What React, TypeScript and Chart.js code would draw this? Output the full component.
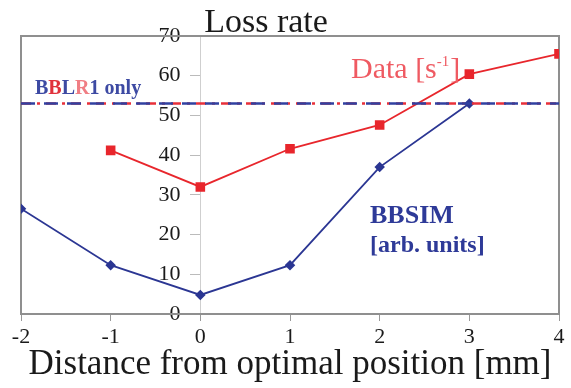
import React, { useEffect, useRef } from "react";
import { Chart, registerables } from "chart.js";

Chart.register(...registerables);

const positions = [-2, -1, 0, 1, 2, 3, 4];
const dataX = [-1, 0, 1, 2, 3, 4];
const dataValues = [41.2, 32.0, 41.6, 47.6, 60.4, 65.5];
const simX = [-2, -1, 0, 1, 2, 3];
const simValues = [26.5, 12.3, 4.8, 12.3, 37.0, 53.0];
const bblrX = [-2, 4];
const bblrLevel = 53;
const yTicks = [0, 10, 20, 30, 40, 50, 60, 70];

const RED = "#e8262c";
const BLUE = "#2b3693";
const SERIF = "'Liberation Serif', 'DejaVu Serif', serif";

const annotations = {
  id: "annotations",
  beforeDatasetsDraw(chart: any) {
    const { ctx, chartArea } = chart;
    ctx.save();
    ctx.strokeStyle = "#8f8f8f";
    ctx.lineWidth = 2;
    ctx.strokeRect(chartArea.left, chartArea.top, chartArea.right - chartArea.left, chartArea.bottom - chartArea.top);
    ctx.restore();
  },
  afterDraw(chart: any) {
    const { ctx } = chart;
    ctx.save();
    ctx.textBaseline = "alphabetic";
    // Title
    ctx.fillStyle = "#1a1a1a";
    ctx.font = `34px ${SERIF}`;
    ctx.textAlign = "center";
    ctx.fillText("Loss rate", 266, 32);
    ctx.textAlign = "left";
    // BBLR1 only (multi-coloured)
    ctx.font = `bold 20px ${SERIF}`;
    const parts: [string, string][] = [
      ["B", "#3d4aa3"], ["B", "#e0323c"], ["L", "#3d4aa3"], ["R", "#f07e84"], ["1", "#3d4aa3"], [" only", "#3d4aa3"],
    ];
    let px = 35;
    for (const [t, c] of parts) {
      ctx.fillStyle = c;
      ctx.fillText(t, px, 94);
      px += ctx.measureText(t).width;
    }
    // Data [s^-1]
    ctx.fillStyle = "#ef5a62";
    ctx.font = `30px ${SERIF}`;
    let dx = 351;
    ctx.fillText("Data [s", dx, 78);
    dx += ctx.measureText("Data [s").width;
    ctx.font = `15px ${SERIF}`;
    ctx.fillText("-1", dx, 66);
    dx += ctx.measureText("-1").width + 1;
    ctx.font = `30px ${SERIF}`;
    ctx.fillText("]", dx, 78);
    // BBSIM
    ctx.fillStyle = "#2e3a98";
    ctx.font = `bold 26px ${SERIF}`;
    ctx.fillText("BBSIM", 370, 223);
    ctx.font = `bold 24px ${SERIF}`;
    ctx.fillText("[arb. units]", 370, 252);
    ctx.restore();
  },
};

export default function App() {
  const ref = useRef<HTMLCanvasElement>(null);
  useEffect(() => {
    if (!ref.current) return;
    const chart = new Chart(ref.current, {
      type: "line",
      data: {
        datasets: [
          {
            label: "BBLR1 blue",
            data: bblrX.map((x) => ({ x, y: bblrLevel })),
            borderColor: "#3040a0",
            borderWidth: 2.5,
            borderDash: [14, 9],
            pointRadius: 0,
          },
          {
            label: "BBLR1 red",
            data: bblrX.map((x) => ({ x, y: bblrLevel })),
            borderColor: "#e8303a",
            borderWidth: 2.5,
            borderDash: [10, 6, 3, 6],
            pointRadius: 0,
          },
          {
            label: "BBSIM",
            data: simX.map((x, i) => ({ x, y: simValues[i] })),
            borderColor: BLUE,
            backgroundColor: BLUE,
            borderWidth: 1.8,
            pointStyle: "rectRot",
            pointRadius: 4,
          },
          {
            label: "Data",
            data: dataX.map((x, i) => ({ x, y: dataValues[i] })),
            borderColor: RED,
            backgroundColor: RED,
            borderWidth: 1.8,
            pointStyle: "rect",
            pointRadius: 5.5,
          },
        ],
      },
      options: {
        animation: false,
        responsive: false,
        maintainAspectRatio: false,
        layout: { padding: { left: 21, right: 12, top: 36, bottom: 0 } },
        plugins: { legend: { display: false }, title: { display: false }, tooltip: { enabled: false } },
        scales: {
          x: {
            type: "linear",
            min: positions[0],
            max: positions[positions.length - 1],
            afterBuildTicks: (s: any) => {
              s.ticks = positions.map((v) => ({ value: v }));
            },
            ticks: { color: "#1a1a1a", font: { family: SERIF, size: 22 }, padding: 3, maxRotation: 0 },
            grid: { drawOnChartArea: false, drawTicks: true, tickLength: 7, color: "#999" },
            border: { display: false },
            title: {
              display: true,
              text: "Distance from optimal position [mm]",
              color: "#1a1a1a",
              font: { family: SERIF, size: 35 },
              padding: { top: 0, bottom: 2 },
            },
            afterFit: (s: any) => {
              s.height = 74;
            },
          },
          y: {
            type: "linear",
            min: 0,
            max: 70,
            position: { x: 0 } as any,
            afterBuildTicks: (s: any) => {
              s.ticks = yTicks.map((v) => ({ value: v }));
            },
            ticks: {
              color: "#1a1a1a",
              font: { family: SERIF, size: 22 },
              padding: 0,
              callback: (v: any) => `${v}\u2002\u2009\u2009`,
            },
            grid: { drawOnChartArea: false, drawTicks: true, tickLength: 10, color: "#bbb" },
            border: { display: true, color: "#cfcfcf", width: 1 },
          },
        },
      },
      plugins: [annotations],
    });
    return () => chart.destroy();
  }, []);
  return (
    <div style={{ position: "absolute", left: 0, top: 0, width: 571, height: 388, background: "#fff" }}>
      <canvas ref={ref} width={571} height={388} style={{ width: 571, height: 388, display: "block" }} />
    </div>
  );
}
